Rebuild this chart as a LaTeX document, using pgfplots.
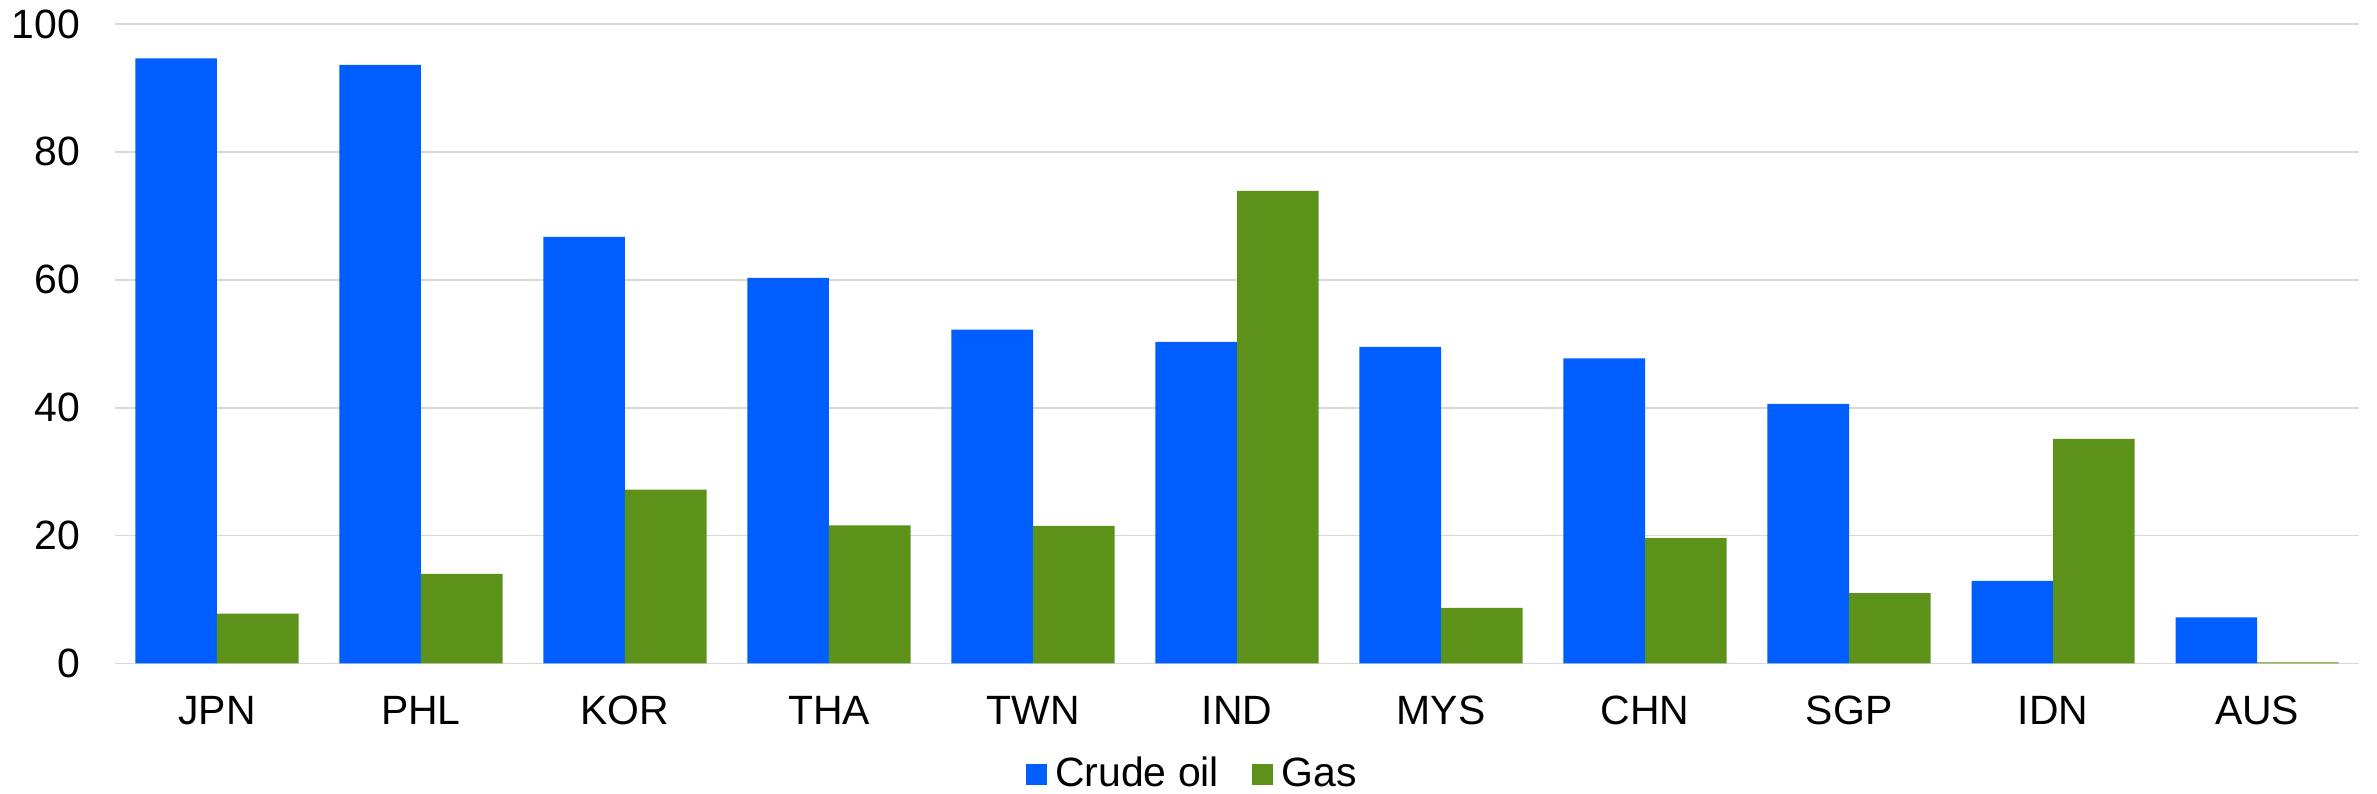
\documentclass[border=0pt]{standalone}
\usepackage{pgfplots}
\pgfplotsset{compat=1.18}
\usepackage{fontspec}
\setmainfont{Liberation Sans}
\definecolor{oil}{RGB}{0,94,255}
\definecolor{gas}{RGB}{93,146,26}
\definecolor{gridc}{RGB}{217,217,217}
\begin{document}
\begin{tikzpicture}
\begin{axis}[
  scale only axis, width=740.1pt, height=210.9pt,
  ybar=0pt, bar width=0.4,
  xmin=-0.5, xmax=10.5, ymin=0, ymax=100,
  xtick={0,1,2,3,4,5,6,7,8,9,10},
  xticklabels={JPN,PHL,KOR,THA,TWN,IND,MYS,CHN,SGP,IDN,AUS},
  ytick={0,20,40,60,80,100},
  ymajorgrids, grid style={gridc, line width=0.6pt},
  axis line style={draw=none}, tick style={draw=none},
  ticklabel style={font=\fontsize{13.5}{16}\selectfont},
  /pgf/number format/assume math mode=true,
  yticklabel style={xshift=-8pt},
  xticklabel style={yshift=-3pt},
  legend style={draw=none, at={(0.481,-0.173)}, anchor=center, legend columns=2,
    font=\fontsize{13.5}{16}\selectfont,
    /tikz/every even column/.append style={column sep=9pt}},
  legend image code/.code={\fill[#1] (0pt,-3.45pt) rectangle (6.9pt,3.45pt); \path (7.7pt,0pt);},
]
\addplot[fill=oil, draw=none] coordinates {(0,94.6) (1,93.6) (2,66.7) (3,60.3) (4,52.2) (5,50.3) (6,49.5) (7,47.7) (8,40.6) (9,12.9) (10,7.2)};
\addlegendentry{Crude oil}
\addplot[fill=gas, draw=none] coordinates {(0,7.8) (1,14.0) (2,27.2) (3,21.6) (4,21.5) (5,73.9) (6,8.7) (7,19.6) (8,11.0) (9,35.1) (10,0.15)};
\addlegendentry{Gas}
\end{axis}
\pgfresetboundingbox
\path (current axis.south west) ++(-37.9pt,-42.8pt) coordinate (bl);
\path (current axis.north east) ++(5.9pt,7.9pt) coordinate (tr);
\path (bl) rectangle (tr);
\end{tikzpicture}
\end{document}
